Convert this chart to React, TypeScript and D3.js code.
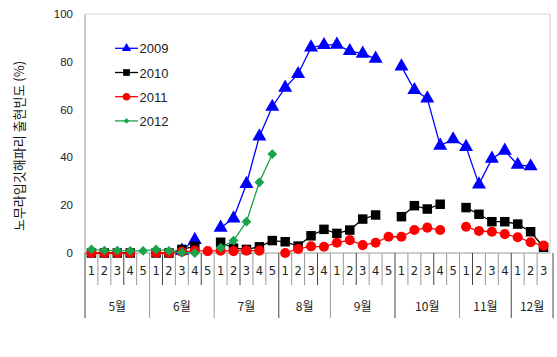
import React from "react";
import * as d3 from "d3";

const months = ["5월", "6월", "7월", "8월", "9월", "10월", "11월", "12월"];
const weeksPerMonth = [5, 5, 5, 4, 5, 5, 4, 3];
const yTicks = [0, 20, 40, 60, 80, 100];

type V = number | null;
const s2009: V[] = [null, null, null, null, null, null, null, 1, 5.5, null, 10.6, 14.5, 28.9, 48.8, 61.2, 69.2, 74.9, 86, 87, 87.2, 84.5, 83.4, 81.3, null, 78.1, 68.2, 64.7, 44.9, 47.6, 44.4, 28.7, 39.5, 42.8, 36.9, 36.3, null];
const s2010: V[] = [0, 0, 0, 0, null, 0, 0, 1.5, 2.8, null, 4.5, 2, 1.5, 2.6, 5.2, 4.7, 2.9, 7.2, 9.9, 8.2, 9.6, 14.2, 15.9, null, 15.2, 19.8, 18.4, 20.4, null, 19, 16.2, 13.1, 13.1, 12.1, 8.9, 2.4];
const s2011: V[] = [0, 0, 0, 0, null, 0, 0, 0.5, 1, 0.8, 1, 0.8, 1, 1, null, 0, 1.7, 2.8, 2.6, 4.3, 5.4, 3.3, 4.3, 6.8, 6.8, 9.6, 10.6, 9.6, null, 11, 9.2, 8.9, 7.9, 6.6, 4.5, 3.1];
const s2012: V[] = [1.5, 1, 1, 0.9, 0.9, 1.5, 0.9, 0.2, 0, null, 2.2, 5.2, 13.1, 29.6, 41.4, null, null, null, null, null, null, null, null, null, null, null, null, null, null, null, null, null, null, null, null, null];

const seriesNames = ["2009", "2010", "2011", "2012"];
const seriesData = [s2009, s2010, s2011, s2012];
const seriesColors = ["#0000ff", "#000000", "#ff0000", "#1aa34a"];
const seriesShapes = [d3.symbolTriangle, d3.symbolSquare, d3.symbolCircle, d3.symbolSquare];
const shapeRot = [0, 0, 0, 45];
const shapeSizes = [85, 90, 80, 48];
const legendSizes = [38, 45, 45, 16];

export default function App() {
  const W = 557, H = 357;
  const left = 85, right = 550, top = 14, bottom = 253;
  const weeks: { m: number; w: number }[] = [];
  weeksPerMonth.forEach((n, m) => {
    for (let w = 1; w <= n; w++) weeks.push({ m, w });
  });
  const idx = weeks.map((_, i) => i);
  const x = d3.scaleBand<number>().domain(idx).range([left, right]).paddingInner(0).paddingOuter(0);
  const y = d3.scaleLinear().domain([0, 100]).range([bottom, top]);
  const cx = (i: number) => (x(i) as number) + x.bandwidth() / 2;

  const line = d3
    .line<V>()
    .defined((d) => d !== null)
    .x((_, i) => cx(i))
    .y((d) => y(d as number));

  const monthStarts: number[] = [];
  let acc = 0;
  weeksPerMonth.forEach((n) => {
    monthStarts.push(acc);
    acc += n;
  });

  const font = "'Liberation Sans', Arial, sans-serif";
  const kfont = "'Noto Sans CJK KR', sans-serif";

  return (
    <svg width={W} height={H} style={{ position: "absolute", left: 0, top: 0, background: "#fff" }}>
      <line x1={left} x2={right} y1={top} y2={top} stroke="#d8d8d8" />
      <line x1={right} x2={right} y1={top} y2={bottom} stroke="#c8c8c8" />
      <line x1={left} x2={left} y1={top} y2={bottom} stroke="#999" />
      <line x1={left} x2={right} y1={bottom} y2={bottom} stroke="#999" />
      {yTicks.map((t) => (
        <text key={t} x={73} y={y(t) + 4} textAnchor="end" fontSize={11.5} fontFamily={font} fill="#222">
          {t}
        </text>
      ))}
      {idx.map((i) => {
        const isMonthStart = monthStarts.includes(i);
        return (
          <line
            key={"s" + i}
            x1={x(i) as number}
            x2={x(i) as number}
            y1={bottom}
            y2={isMonthStart ? 318 : 285}
            stroke={i % 3 === 0 ? "#444" : "#999"}
            strokeWidth={1}
          />
        );
      })}
      <line x1={right + 3} x2={right + 3} y1={bottom} y2={318} stroke="#444" />
      {weeks.map((wk, i) => (
        <text key={"w" + i} x={cx(i)} y={275} textAnchor="middle" fontSize={11.5} fontFamily="'DejaVu Sans', sans-serif" fill="#222">
          {wk.w}
        </text>
      ))}
      {months.map((m, k) => {
        const s = monthStarts[k];
        const e = s + weeksPerMonth[k];
        const mid = ((x(s) as number) + (e < idx.length ? (x(e) as number) : right + 3)) / 2;
        return (
          <text key={m} x={mid} y={311} textAnchor="middle" fontSize={12} fontFamily={kfont} fill="#222">
            {m}
          </text>
        );
      })}
      <text
        transform={`translate(24,146) rotate(-90)`}
        textAnchor="middle"
        fontSize={13}
        fontFamily={kfont}
        fill="#111"
      >
        노무라입깃해파리 출현빈도 (%)
      </text>
      {seriesData.map((data, si) => (
        <g key={seriesNames[si]}>
          <path d={line(data) || ""} fill="none" stroke={seriesColors[si]} strokeWidth={1.3} />
          {data.map((v, i) =>
            v === null ? null : (
              <path
                key={i}
                transform={`translate(${cx(i)},${y(v)}) rotate(${shapeRot[si]})`}
                d={d3.symbol().type(seriesShapes[si]).size(shapeSizes[si])() || ""}
                fill={seriesColors[si]}
              />
            )
          )}
        </g>
      ))}
      {seriesNames.map((n, si) => {
        const ly = 48.3 + si * 24.2;
        return (
          <g key={"l" + n}>
            <line x1={115} x2={138} y1={ly} y2={ly} stroke={seriesColors[si]} strokeWidth={1.3} />
            <path
              transform={`translate(126.5,${ly}) rotate(${shapeRot[si]})`}
              d={d3.symbol().type(seriesShapes[si]).size(legendSizes[si])() || ""}
              fill={seriesColors[si]}
            />
            <text x={139.5} y={ly + 5} fontSize={13} fontFamily={font} fill="#222">
              {n}
            </text>
          </g>
        );
      })}
    </svg>
  );
}
